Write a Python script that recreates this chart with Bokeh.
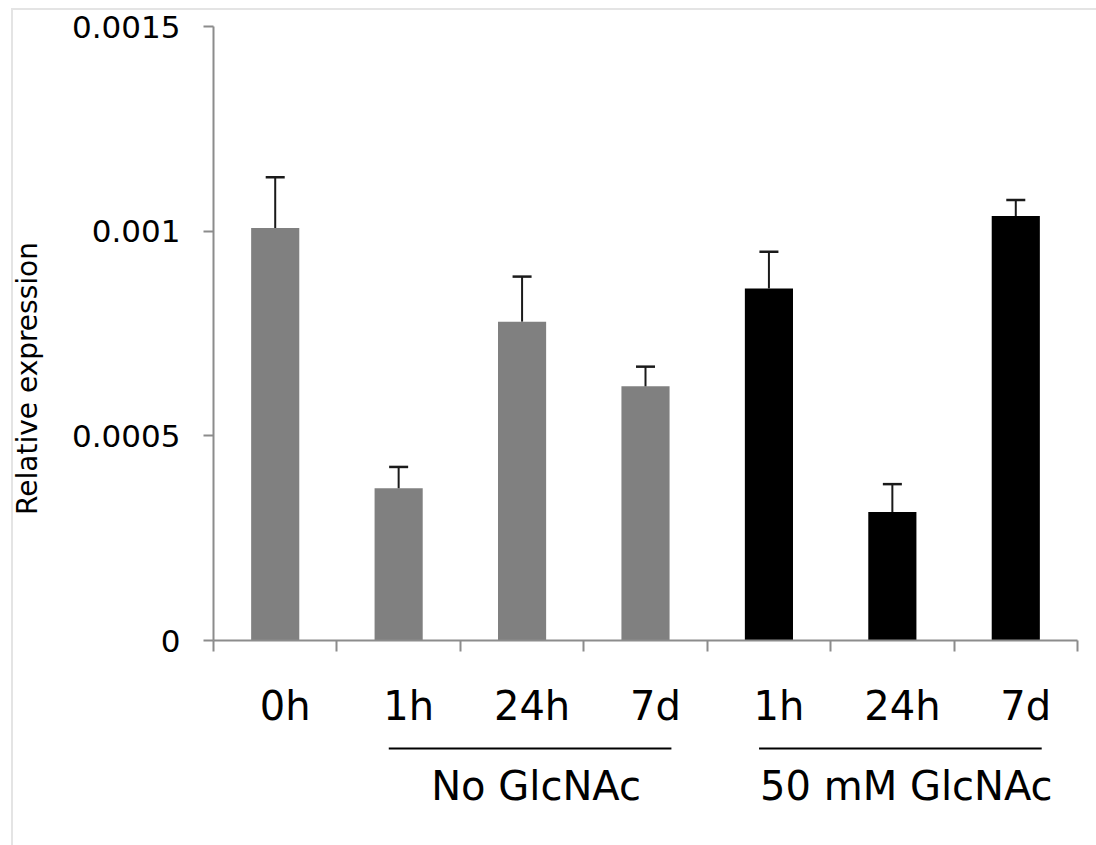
import numpy as np
from bokeh.plotting import figure
from bokeh.models import Range1d, FixedTicker
from bokeh.layouts import column, row
from bokeh.embed import file_html
from bokeh.resources import INLINE
from bokeh.core.properties import value

# ---- data ----
categories = ["0h", "1h", "24h", "7d", "1h", "24h", "7d"]
expression = [0.001008, 0.000372, 0.000779, 0.000621, 0.000860, 0.000314, 0.001037]
error = [0.000124, 0.000052, 0.000110, 0.000048, 0.000090, 0.000068, 0.000039]
bar_colors = ["#808080", "#808080", "#808080", "#808080", "#000000", "#000000", "#000000"]
y_ticks = [0, 0.0005, 0.001, 0.0015]
y_tick_labels = ["0", "0.0005", "0.001", "0.0015"]
group_names = ["No GlcNAc", "50 mM GlcNAc"]
group_first = [1, 4]
group_last = [3, 6]
y_title = ["Relative expression"]

FONT = value("DejaVu Sans")
TITLE_W = 48

n = len(categories)
xc = np.arange(n) + 0.5
top = np.array(expression)
err_top = top + np.array(error)

# ---- left strip with the y-axis title ----
t = figure(width=TITLE_W, height=845, x_range=Range1d(0, TITLE_W), y_range=Range1d(845, 0),
           output_backend="svg", toolbar_location=None, x_axis_type=None, y_axis_type=None,
           min_border=0)
t.outline_line_color = None
t.grid.visible = False
t.background_fill_color = None
t.border_fill_color = None
t.text(x=[27], y=[378], text=y_title, angle=np.pi / 2, text_align="center", text_baseline="middle",
       text_font=FONT, text_font_size="28px", text_color="black")

# ---- main plot ----
p = figure(width=1096 - TITLE_W, height=668, x_range=Range1d(0, n), y_range=Range1d(0, 0.0015),
           output_backend="svg", toolbar_location=None,
           min_border_left=213 - TITLE_W, min_border_right=19, min_border_top=26, min_border_bottom=28)
p.outline_line_color = None
p.grid.visible = False
p.border_fill_color = None

p.vbar(x=xc, top=top, width=0.39, fill_color=bar_colors, line_color=None)
p.segment(x0=xc, y0=top, x1=xc, y1=err_top, line_color="#1a1a1a", line_width=2)
p.segment(x0=xc - 0.077, y0=err_top, x1=xc + 0.077, y1=err_top, line_color="#1a1a1a", line_width=2.5)

ax = p.xaxis[0]
ax.ticker = FixedTicker(ticks=list(range(n + 1)))
ax.major_tick_out = 11
ax.major_tick_in = 0
ax.minor_tick_line_color = None
ax.axis_line_color = "#8c8c8c"
ax.axis_line_width = 2
ax.major_tick_line_color = "#8c8c8c"
ax.major_tick_line_width = 2
ax.major_label_text_color = None
ax.major_label_text_font_size = "1px"

ay = p.yaxis[0]
ay.ticker = FixedTicker(ticks=y_ticks)
ay.major_label_overrides = {tk: lb for tk, lb in zip(y_ticks, y_tick_labels)}
ay.major_label_text_font = "DejaVu Sans"
ay.major_label_text_font_size = "31px"
ay.major_label_text_color = "black"
ay.major_label_standoff = 23
ay.major_tick_out = 10
ay.major_tick_in = 0
ay.minor_tick_line_color = None
ay.axis_line_color = "#8c8c8c"
ay.axis_line_width = 2
ay.major_tick_line_color = "#8c8c8c"
ay.major_tick_line_width = 2

# ---- label strip below ----
q = figure(width=1096 - TITLE_W, height=845 - 668, x_range=p.x_range, y_range=Range1d(845 - 668, 0),
           output_backend="svg", toolbar_location=None, x_axis_type=None, y_axis_type=None,
           min_border=0, min_border_left=213 - TITLE_W, min_border_right=19)
q.outline_line_color = None
q.grid.visible = False
q.border_fill_color = None

q.text(x=xc, y=37, text=categories, x_offset=10, text_align="center", text_baseline="alphabetic",
       text_font=FONT, text_font_size="40px", text_color="black")

gf = np.array(group_first)
gl = np.array(group_last)
gcenter = (gf + gl + 1) / 2.0
q.segment(x0=gf + 0.42, x1=gl + 1 - 0.29, y0=80, y1=80, line_color="black", line_width=2)
q.text(x=gcenter, y=117, text=group_names, x_offset=14, text_align="center", text_baseline="alphabetic",
       text_font=FONT, text_font_size="40px", text_color="black")

frame_bg = ("linear-gradient(#e4e4e4, #e4e4e4) 11px 8px / 2px 100% no-repeat, "
            "linear-gradient(#e4e4e4, #e4e4e4) 11px 8px / 100% 2px no-repeat, white")
layout = row(t, column(p, q, spacing=0), spacing=0, styles={"background": frame_bg})
open("out.html", "w").write(file_html(layout, INLINE))
